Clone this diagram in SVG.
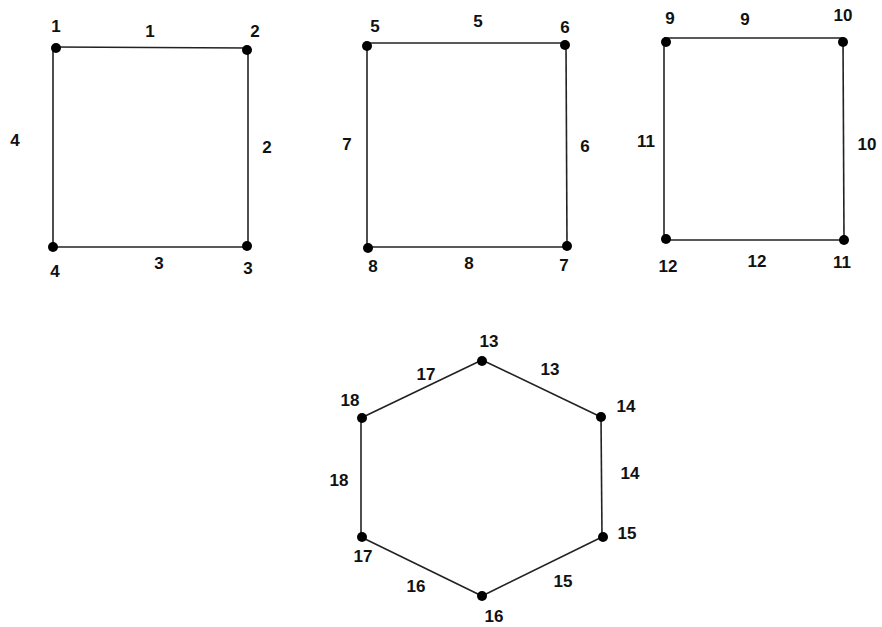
<svg xmlns="http://www.w3.org/2000/svg" width="882" height="627" viewBox="0 0 882 627">
<style>
.e{stroke:#222;stroke-width:1.6;fill:none}
.n{fill:#000}
text{font-family:"Liberation Sans","DejaVu Sans",sans-serif;font-weight:bold;font-size:17px;fill:#111;text-anchor:middle}
</style>
<rect width="882" height="627" fill="#fff"/>
<g id="connectors">
<line class="e" x1="53" y1="47" x2="248" y2="48"/>
<line class="e" x1="248" y1="48" x2="248" y2="247"/>
<line class="e" x1="248" y1="247" x2="53" y2="247"/>
<line class="e" x1="53" y1="247" x2="53" y2="47"/>
<line class="e" x1="367" y1="43" x2="566" y2="43"/>
<line class="e" x1="566" y1="43" x2="567" y2="247"/>
<line class="e" x1="567" y1="247" x2="367" y2="247"/>
<line class="e" x1="367" y1="247" x2="367" y2="43"/>
<line class="e" x1="664" y1="38" x2="843" y2="38"/>
<line class="e" x1="843" y1="38" x2="844" y2="240"/>
<line class="e" x1="844" y1="240" x2="664" y2="240"/>
<line class="e" x1="664" y1="240" x2="664" y2="38"/>
<line class="e" x1="482" y1="360" x2="601" y2="417"/>
<line class="e" x1="601" y1="417" x2="602" y2="537"/>
<line class="e" x1="602" y1="537" x2="482" y2="596"/>
<line class="e" x1="482" y1="596" x2="361" y2="537"/>
<line class="e" x1="361" y1="537" x2="361" y2="418"/>
<line class="e" x1="361" y1="418" x2="482" y2="360"/>
<text x="150" y="37">1</text>
<text x="267" y="153">2</text>
<text x="159" y="269">3</text>
<text x="15" y="146">4</text>
<text x="478" y="27">5</text>
<text x="585" y="152">6</text>
<text x="347" y="150">7</text>
<text x="469" y="269">8</text>
<text x="745" y="25">9</text>
<text x="867" y="150">10</text>
<text x="646" y="147">11</text>
<text x="757" y="267">12</text>
<text x="550" y="375">13</text>
<text x="630" y="479">14</text>
<text x="563" y="587">15</text>
<text x="416" y="592">16</text>
<text x="426" y="380">17</text>
<text x="339" y="486">18</text>
</g>
<g id="n1"><circle class="n" cx="56" cy="48" r="5"/><text x="56" y="32">1</text></g>
<g id="n2"><circle class="n" cx="247" cy="50" r="5"/><text x="255" y="37">2</text></g>
<g id="n3"><circle class="n" cx="247" cy="246" r="5"/><text x="248" y="274">3</text></g>
<g id="n4"><circle class="n" cx="53" cy="247" r="5"/><text x="55" y="277">4</text></g>
<g id="n5"><circle class="n" cx="367" cy="46" r="5"/><text x="375" y="32">5</text></g>
<g id="n6"><circle class="n" cx="565" cy="45" r="5"/><text x="565" y="33">6</text></g>
<g id="n7"><circle class="n" cx="567" cy="246" r="5"/><text x="564" y="271">7</text></g>
<g id="n8"><circle class="n" cx="368" cy="248" r="5"/><text x="373" y="272">8</text></g>
<g id="n9"><circle class="n" cx="666" cy="42" r="5"/><text x="670" y="24">9</text></g>
<g id="n10"><circle class="n" cx="843" cy="42" r="5"/><text x="843" y="21">10</text></g>
<g id="n11"><circle class="n" cx="844" cy="240" r="5"/><text x="842" y="268">11</text></g>
<g id="n12"><circle class="n" cx="666" cy="239" r="5"/><text x="668" y="272">12</text></g>
<g id="n13"><circle class="n" cx="482" cy="361" r="5"/><text x="489" y="347">13</text></g>
<g id="n14"><circle class="n" cx="601" cy="417" r="5"/><text x="626" y="412">14</text></g>
<g id="n15"><circle class="n" cx="603" cy="537" r="5"/><text x="627" y="539">15</text></g>
<g id="n16"><circle class="n" cx="482" cy="596" r="5"/><text x="494" y="622">16</text></g>
<g id="n17"><circle class="n" cx="362" cy="537" r="5"/><text x="363" y="562">17</text></g>
<g id="n18"><circle class="n" cx="362" cy="418" r="5"/><text x="350" y="406">18</text></g>
</svg>
